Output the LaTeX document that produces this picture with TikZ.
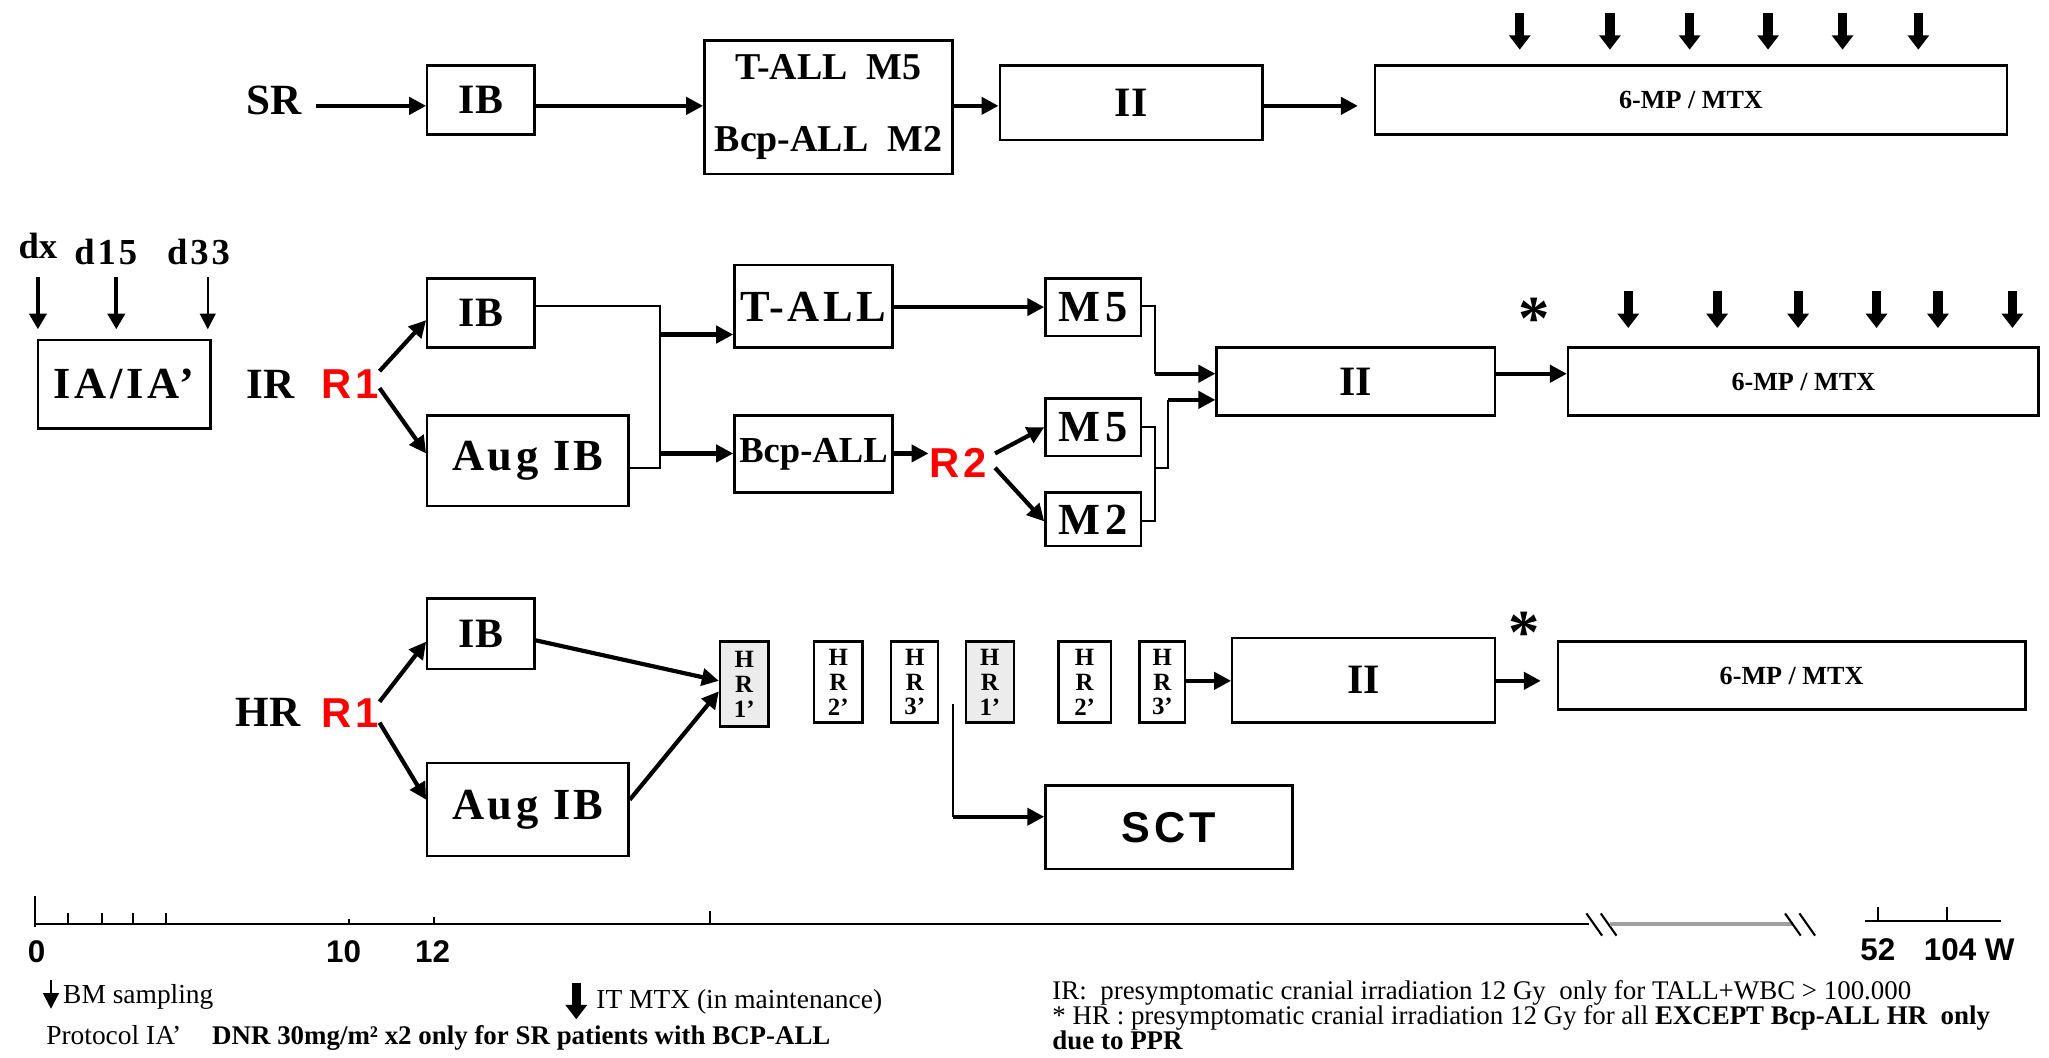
\documentclass[tikz,border=0pt]{standalone}
\usepackage{fontspec}
\setmainfont{Liberation Serif}
\setsansfont{Liberation Sans}
\newfontfamily\lsserif{Liberation Serif}[LetterSpace=8]
\newfontfamily\lssans{Liberation Sans}[LetterSpace=10]
\usetikzlibrary{arrows.meta}
\newcommand\fsz[1]{\fontsize{#1}{#1}\selectfont}
\newcommand\bx[7][]{%
 \pgfmathsetmacro\bxX{(#3+#5)/2}%
 \pgfmathsetmacro\bxY{(#4+#6)/2}%
 \pgfmathsetmacro\bxW{(#5-#3)*0.5}%
 \pgfmathsetmacro\bxH{(#6-#4)*0.5}%
 \node[boxst,minimum width=\bxW pt,minimum height=\bxH pt,#1] (#2) at (\bxX,\bxY) {#7};}
\begin{document}
\begin{tikzpicture}[x=0.5pt,y=-0.5pt,
 boxst/.style={draw, line width=0.9pt, inner sep=0pt, align=center, font=\bfseries\fsz{16}},
 lbl/.style={inner sep=0pt, font=\bfseries\fsz{16.5}},
 rlbl/.style={inner sep=0pt, text=red, font=\lssans\bfseries\fsz{16}},
 thk/.style={line width=1.6pt, -{Triangle[length=6.5pt,width=6.5pt]}},
 thn/.style={line width=0.8pt},
 bigarr/.style={line width=3.5pt, -{Triangle[length=5.5pt,width=8pt]}},
 darr/.style={line width=1.5pt, -{Triangle[length=6pt,width=6.5pt]}},
 tarr/.style={line width=0.8pt, -{Triangle[length=6pt,width=6pt]}},
 note/.style={inner sep=0pt, anchor=base west, font=\fsz{10.3}},
 lnote/.style={inner sep=0pt, anchor=base west, font=\fsz{10.5}},
 ax/.style={line width=0.8pt},
 axl/.style={inner sep=0pt, font=\sffamily\bfseries\fsz{12}},
 hrb/.style={font=\bfseries\fontsize{9.5}{9.5}\selectfont},
 ast/.style={inner sep=0pt, font=\bfseries\fsz{24}},
 mp/.style={font=\bfseries\fsz{10}},
 ls/.style={font=\lsserif\bfseries\fsz{17}}
]
\useasboundingbox (0,0) rectangle (1568,809);

% ---------------- SR row ----------------
\node[lbl] (sr) at (210,77) {SR};
\bx{sribx}{327}{50}{409}{103}{IB}
\bx[font=\bfseries\fontsize{14.5}{27.5}\selectfont]{srtm}{539}{31}{729}{133}{T-ALL~~M5\\Bcp-ALL~~M2}
\bx{srii}{765}{50}{966}{107}{II}
\bx[mp]{srmp}{1052}{50}{1536}{103}{6-MP / MTX}
\draw[thk] ([xshift=5pt]sr.east |- 0,81) -- (sribx.west |- 0,81);
\draw[thk] (sribx.east |- 0,81) -- (srtm.west |- 0,81);
\draw[thk] (srtm.east |- 0,81) -- (srii.west |- 0,81);
\draw[thk, shorten >=6pt] (srii.east |- 0,81) -- (srmp.west |- 0,81);
\foreach \x in {1163,1232,1293,1353,1410,1468} \draw[bigarr] (\x,10) -- (\x,38);

% ---------------- IR row ----------------
\node[inner sep=0pt, font=\bfseries\fsz{14}] (dx) at (29,188) {dx};
\node[inner sep=0pt, font=\lsserif\bfseries\fsz{14}] (d15) at (81,193) {d15};
\node[inner sep=0pt, font=\lsserif\bfseries\fsz{14}] (d33) at (152,193) {d33};
\draw[darr] (29,212) -- (29,252);
\draw[darr] (89,212) -- (89,252);
\draw[tarr] (159,212) -- (159,252);
\bx[font=\lsserif\bfseries\fsz{17}]{ia}{29}{260}{161}{328}{IA/IA’}
\node[lbl] (ir) at (207,294) {IR};
\node[rlbl] (irr1) at (268,294) {R1};
\bx{iribx}{327}{213}{409}{266}{IB}
\bx[ls]{iraug}{327}{318}{481}{387}{Aug IB}
\bx[ls]{irtall}{562}{203}{683}{266}{T-ALL}
\bx[font=\bfseries\fsz{14}]{irbcp}{562}{318}{683}{377}{Bcp-ALL}
\node[rlbl] (r2) at (733,354) {R2};
\bx[ls]{irm5a}{800}{213}{873}{257}{M\hspace{2pt}5}
\bx[ls]{irm5b}{800}{305}{873}{349}{M\hspace{2pt}5}
\bx[ls]{irm2}{800}{377}{873}{418}{M\hspace{2pt}2}
\bx{irii}{931}{266}{1144}{318}{II}
\bx[mp]{irmp}{1200}{266}{1560}{318}{6-MP / MTX}
\node[ast] (irast) at (1174,244) {*};
\foreach \x in {1246,1314,1376,1436,1483,1540} \draw[bigarr] (\x,223) -- (\x,251);

\draw[thk] (irr1.east |- 0,284) -- (iribx.west |- 0,245);
\draw[thk] (irr1.east |- 0,297) -- (iraug.west |- 0,347);
\coordinate (mgt) at (505,256);
\coordinate (mgb) at (505,347);
\draw[thn] (iribx.east |- 0,234) -- (505,234) -- (505,358) -- (iraug.east |- 0,358);
\draw[thk] (mgt) -- (irtall.west |- mgt);
\draw[thk] (mgb) -- (irbcp.west |- mgb);
\draw[thk] (irtall.east |- 0,235) -- (irm5a.west |- 0,235);
\draw[thk] (irbcp.east |- 0,347) -- (r2.west |- 0,347);
\draw[thk] ([xshift=3pt]r2.east |- 0,347) -- (irm5b.west |- 0,327);
\draw[thk] ([xshift=3pt]r2.east |- 0,358) -- (irm2.west |- 0,399);
\coordinate (ja) at (884,286);
\coordinate (jb) at (894,306);
\draw[thn] (irm5a.east |- 0,234) -- (884,234) -- (ja);
\draw[thk] (ja) -- (irii.west |- ja);
\draw[thn] (irm5b.east |- 0,327) -- (884,327) -- (884,399) -- (irm2.east |- 0,399);
\draw[thn] (884,358) -- (894,358) -- (jb);
\draw[thk] (jb) -- (irii.west |- jb);
\draw[thk] (irii.east |- 0,286) -- (irmp.west |- 0,286);

% ---------------- HR row ----------------
\node[lbl] (hr) at (205,545) {HR};
\node[rlbl] (hrr1) at (268,546) {R1};
\bx{hribx}{327}{458}{409}{512}{IB}
\bx[ls]{hraug}{327}{584}{481}{655}{Aug IB}
\bx[hrb,fill=gray!15]{hra}{551}{491}{588}{556}{H\\R\\1’}
\bx[hrb]{hrb2}{623}{491}{660}{553}{H\\R\\2’}
\bx[hrb]{hrc}{682}{491}{718}{553}{H\\R\\3’}
\bx[hrb,fill=gray!15]{hrd}{739}{491}{776}{553}{H\\R\\1’}
\bx[hrb]{hre}{810}{491}{850}{553}{H\\R\\2’}
\bx[hrb]{hrf}{872}{491}{907}{553}{H\\R\\3’}
\bx{hrii}{943}{488}{1144}{553}{II}
\bx[mp]{hrmp}{1192}{491}{1550}{543}{6-MP / MTX}
\bx[font=\lssans\bfseries\fsz{16.5}]{sct}{800}{601}{989}{665}{SCT}
\node[ast] (hrast) at (1166,484) {*};

\draw[thk] (hrr1.east |- 0,537) -- (hribx.west |- 0,491);
\draw[thk] (hrr1.east |- 0,553) -- (hraug.west |- 0,612);
\draw[thk] (hribx.east |- 0,490) -- (hra.west |- 0,521);
\draw[thk] (hraug.east |- 0,612) -- (hra.west |- 0,529);
\draw[thk] (hrf.east |- 0,521) -- (hrii.west |- 0,521);
\draw[thk, shorten >=6pt] (hrii.east |- 0,521) -- (hrmp.west |- 0,521);
\coordinate (sctop) at (729,539);
\coordinate (sccor) at (729,625);
\draw[thn] (sctop) -- (sccor);
\draw[thk] (sccor) -- (sct.west |- sccor);

% ---------------- time axis ----------------
\draw[ax] (27,686) -- (27,709);
\draw[ax] (27,707) -- (1216,707);
\foreach \x in {52,78,102,127} \draw[ax] (\x,699) -- (\x,707);
\draw[ax] (267,703) -- (267,707);
\draw[ax] (332,702) -- (332,707);
\draw[ax] (543,697) -- (543,707);
\foreach \x in {1214,1225} \draw[ax] (\x,699) -- (\x+12,716);
\draw[gray!75, line width=1.6pt] (1232,707) -- (1372,707);
\foreach \x in {1366,1377} \draw[ax] (\x,699) -- (\x+12,716);
\draw[ax] (1427,705) -- (1531,705);
\draw[ax] (1437,694) -- (1437,705);
\draw[ax] (1490,694) -- (1490,705);
\node[axl] (w0) at (28,728) {0};
\node[axl] (w10) at (263,728) {10};
\node[axl] (w12) at (331,728) {12};
\node[axl] (w52) at (1437,727) {52};
\node[axl] (w104) at (1507,727) {104 W};

% ---------------- legend ----------------
\draw[tarr] (39,750) -- (39,772);
\node[lnote] (bm) at (48,768) {BM sampling};
\draw[bigarr] (441,752) -- (441,780);
\node[lnote] (itm) at (456,772) {IT MTX (in maintenance)};
\node[lnote] (prot) at (35,799) {Protocol IA’};
\node[lnote, font=\bfseries\fsz{10.3}] (dnr) at (162,799) {DNR 30mg/m² x2 only for SR patients with BCP-ALL};
\node[note] (n1) at (805,765) {IR:\ \ presymptomatic cranial irradiation 12 Gy\ \ only for TALL+WBC > 100.000};
\node[note] (n2) at (805,784) {* HR : presymptomatic cranial irradiation 12 Gy for all \textbf{EXCEPT Bcp-ALL HR\ \ only}};
\node[note] (n3) at (805,803) {\textbf{due to PPR}};
\end{tikzpicture}
\end{document}
